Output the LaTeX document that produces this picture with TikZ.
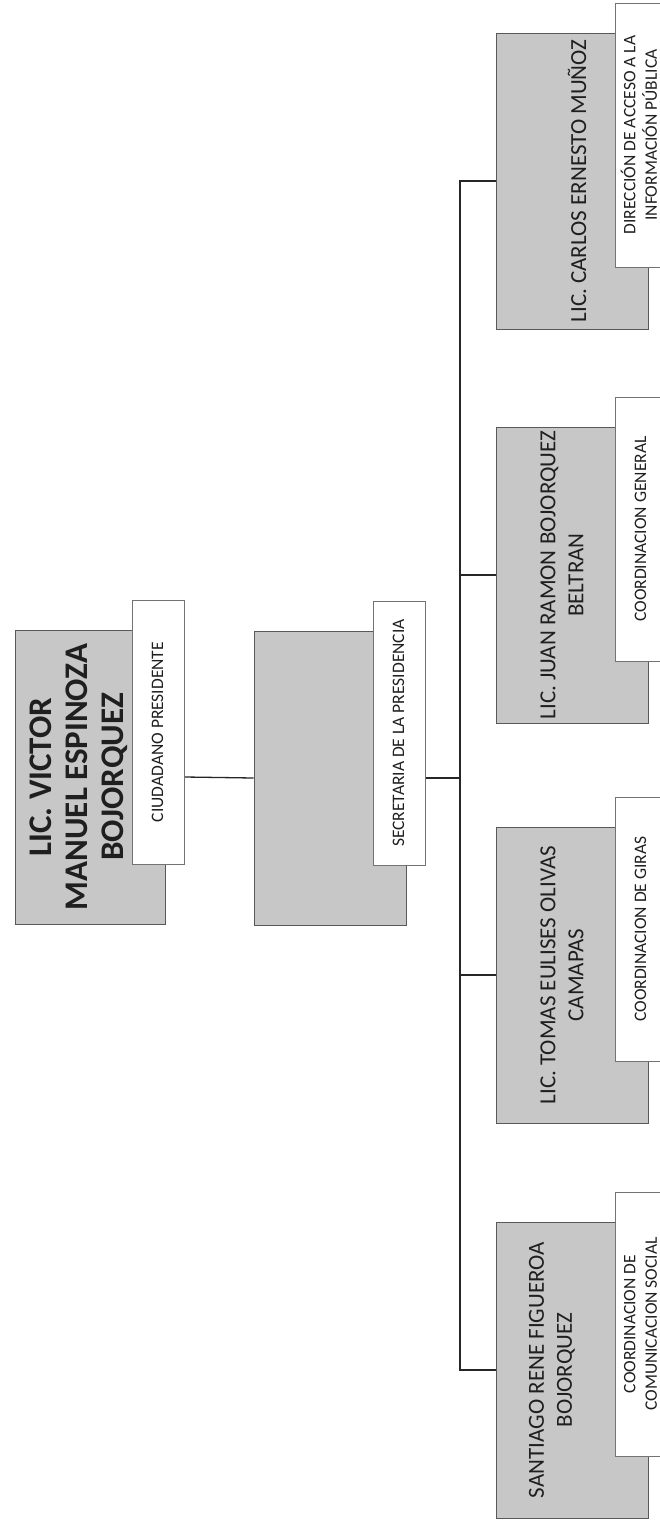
\documentclass[tikz,border=0pt]{standalone}
\usepackage{fontspec}
\setmainfont{Carlito}
\usetikzlibrary{positioning}

\newcommand{\girado}[1]{\rotatebox{90}{\begin{tabular}{@{}c@{}}#1\end{tabular}}}

\tikzset{
  persona/.style={draw=black!65, line width=0.8, fill=black!22, minimum width=152, minimum height=296, inner sep=0},
  cargo/.style={draw=black!55, line width=0.8, fill=white, minimum width=52, minimum height=264, inner sep=0,
    anchor=north west, xshift=-33, yshift=30, text=black!88, font=\fontsize{17.5}{21.5}\selectfont},
  nombre/.style={rotate=90, align=center, text=black!88, font=\fontsize{23}{28}\selectfont},
  linea/.style={draw=black!85, line width=1.3},
}

\begin{document}
\begin{tikzpicture}[x=1pt, y=-1pt]
\path[use as bounding box] (0,0) rectangle (660,1524);
\clip (0,0) rectangle (660,1524);
\fill[white] (0,0) rectangle (660,1524);

% presidencia
\node[persona, minimum width=150, minimum height=294] (pres) at (90,777) {};
\node[nombre, font=\bfseries\fontsize{33}{36}\selectfont] (presTxt) at ([xshift=-11]pres.center) {LIC. VICTOR\\MANUEL ESPINOZA\\BOJORQUEZ};
\node[cargo] (presLbl) at (pres.north east) {\girado{CIUDADANO PRESIDENTE}};

% secretaria
\node[persona, minimum height=294] (sec) at (330,778) {};
\node[cargo] (secLbl) at (sec.north east) {\girado{SECRETARIA DE LA PRESIDENCIA}};
\coordinate (bus) at (460,778);

% coordinaciones
\node[persona] (carlos) at (572,181) {};
\node[nombre] (carlosTxt) at ([xshift=5]carlos.center) {LIC. CARLOS ERNESTO MUÑOZ};
\node[cargo] (carlosLbl) at (carlos.north east) {\girado{DIRECCIÓN DE ACCESO A LA\\INFORMACIÓN PÚBLICA}};

\node[persona] (juan) at (572,575) {};
\node[nombre] (juanTxt) at ([xshift=-10]juan.center) {LIC. JUAN RAMON BOJORQUEZ\\BELTRAN};
\node[cargo] (juanLbl) at (juan.north east) {\girado{COORDINACION GENERAL}};

\node[persona] (tomas) at (572,975) {};
\node[nombre] (tomasTxt) at ([xshift=-10]tomas.center) {LIC. TOMAS EULISES OLIVAS\\CAMAPAS};
\node[cargo] (tomasLbl) at (tomas.north east) {\girado{COORDINACION DE GIRAS}};

\node[persona] (santiago) at (572,1370) {};
\node[nombre] (santiagoTxt) at ([xshift=-20]santiago.center) {SANTIAGO RENE FIGUEROA\\BOJORQUEZ};
\node[cargo] (santiagoLbl) at (santiago.north east) {\girado{COORDINACION DE\\COMUNICACION SOCIAL}};

% lineas
\draw[linea] (pres.center -| presLbl.east) -- (sec.west);
\draw[linea] (sec.center -| secLbl.east) -- (bus);
\draw[linea] (carlos.west) -- (carlos.west -| bus) -- (santiago.west -| bus) -- (santiago.west);
\draw[linea] (juan.west) -- (juan.west -| bus);
\draw[linea] (tomas.west) -- (tomas.west -| bus);
\end{tikzpicture}
\end{document}
